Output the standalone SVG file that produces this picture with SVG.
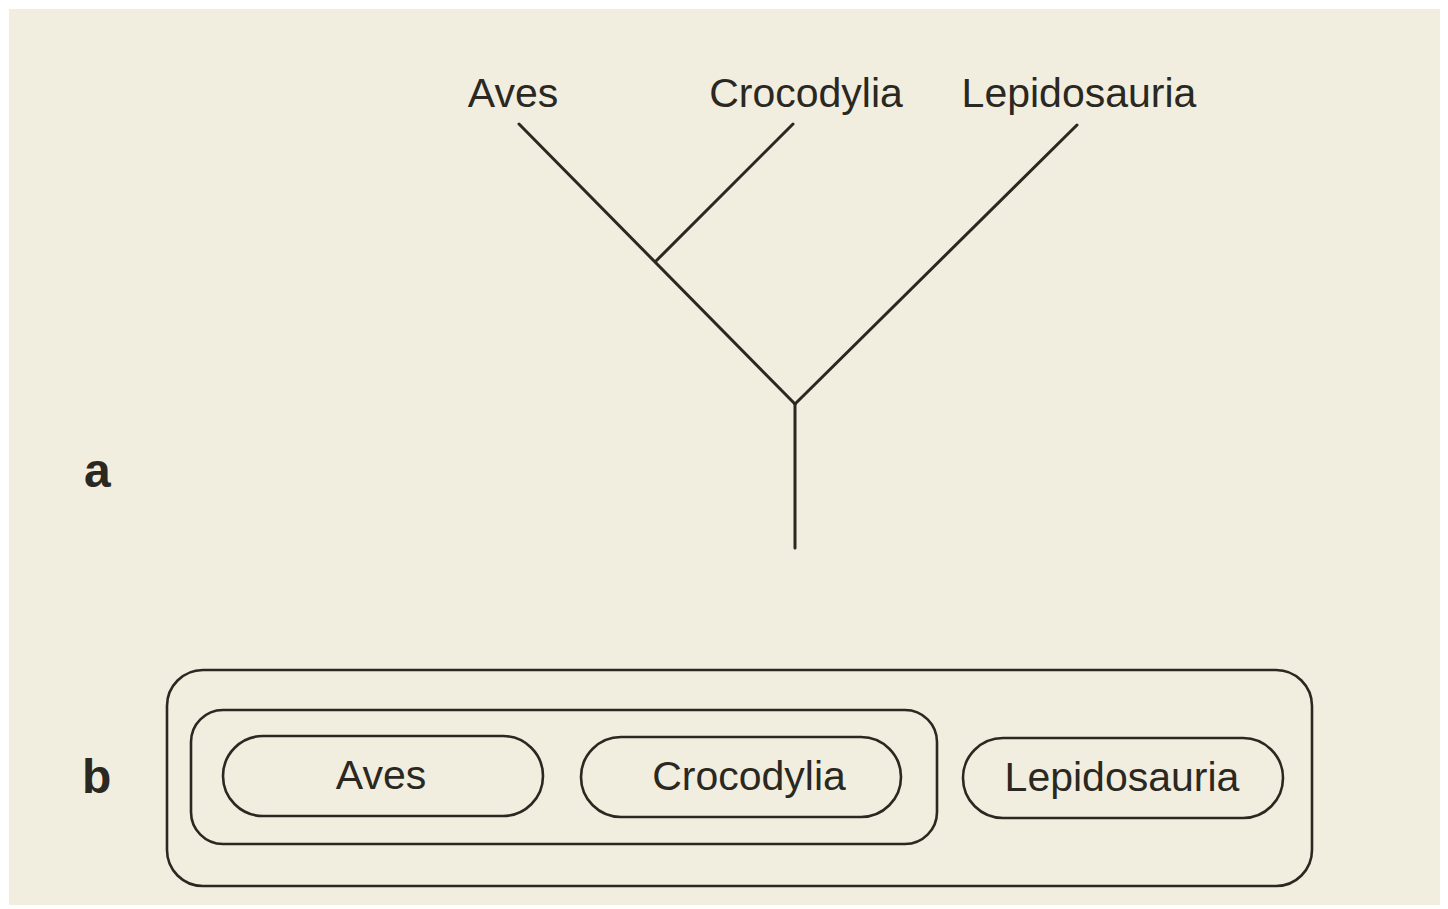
<svg xmlns="http://www.w3.org/2000/svg" width="1448" height="909" viewBox="0 0 1448 909">
<style>
.ln{stroke:#2b2821;stroke-width:3;fill:none;stroke-linecap:round}
.bx{stroke:#2b2821;stroke-width:2.6;fill:none}
.t{font-family:"Liberation Sans",Arial,sans-serif;font-size:41px;fill:#2b2821;text-anchor:middle}
.lab{font-family:"Liberation Sans",Arial,sans-serif;font-size:48px;font-weight:bold;fill:#2b2821}
</style>
<rect x="0" y="0" width="1448" height="909" fill="#ffffff"/>
<rect x="9" y="9" width="1431" height="896" fill="#f1eedf"/>
<g id="panel-a">
<g id="connectors">
<line class="ln" x1="519" y1="124" x2="795" y2="404"/>
<line class="ln" x1="793" y1="124" x2="656" y2="261"/>
<line class="ln" x1="1077" y1="125" x2="795" y2="404"/>
<line class="ln" x1="795" y1="404" x2="795" y2="548"/>
</g>
<g id="tree-aves"><text class="t" x="513" y="107">Aves</text></g>
<g id="tree-crocodylia"><text class="t" x="806" y="107">Crocodylia</text></g>
<g id="tree-lepidosauria"><text class="t" x="1079" y="107">Lepidosauria</text></g>
<text class="lab" x="84" y="487">a</text>
</g>
<g id="panel-b">
<g id="outer-group"><rect class="bx" x="167" y="670" width="1145" height="216" rx="36"/></g>
<g id="archosauria-group"><rect class="bx" x="191" y="710" width="746" height="134" rx="32"/></g>
<g id="set-aves"><rect class="bx" x="223" y="736" width="320" height="80" rx="40"/><text class="t" x="381" y="789">Aves</text></g>
<g id="set-crocodylia"><rect class="bx" x="581" y="737" width="320" height="80" rx="40"/><text class="t" x="749" y="790">Crocodylia</text></g>
<g id="set-lepidosauria"><rect class="bx" x="963" y="738" width="320" height="80" rx="40"/><text class="t" x="1122" y="791">Lepidosauria</text></g>
<text class="lab" x="82" y="793">b</text>
</g>
</svg>
